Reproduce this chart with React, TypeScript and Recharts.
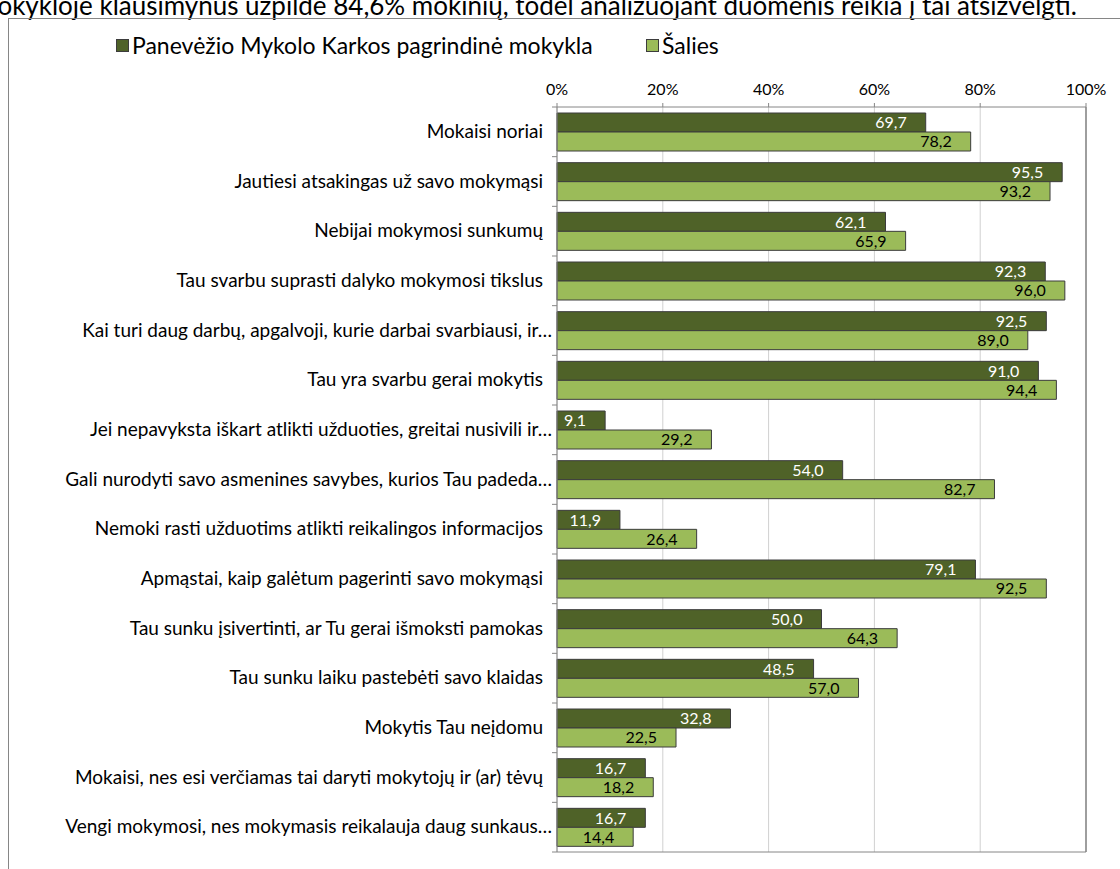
import React from 'react';
import {
  BarChart,
  Bar,
  XAxis,
  YAxis,
  CartesianGrid,
  LabelList,
  ReferenceLine,
} from 'recharts';

const categories = [
  'Mokaisi noriai',
  'Jautiesi atsakingas už savo mokymąsi',
  'Nebijai mokymosi sunkumų',
  'Tau svarbu suprasti dalyko mokymosi tikslus',
  'Kai turi daug darbų, apgalvoji, kurie darbai svarbiausi, ir…',
  'Tau yra svarbu gerai mokytis',
  'Jei nepavyksta iškart atlikti užduoties, greitai nusivili ir…',
  'Gali nurodyti savo asmenines savybes, kurios Tau padeda…',
  'Nemoki rasti užduotims atlikti reikalingos informacijos',
  'Apmąstai, kaip galėtum pagerinti savo mokymąsi',
  'Tau sunku įsivertinti, ar Tu gerai išmoksti pamokas',
  'Tau sunku laiku pastebėti savo klaidas',
  'Mokytis Tau neįdomu',
  'Mokaisi, nes esi verčiamas tai daryti mokytojų ir (ar) tėvų',
  'Vengi mokymosi, nes mokymasis reikalauja daug sunkaus…',
];

const schoolValues = [69.7, 95.5, 62.1, 92.3, 92.5, 91.0, 9.1, 54.0, 11.9, 79.1, 50.0, 48.5, 32.8, 16.7, 16.7];
const countryValues = [78.2, 93.2, 65.9, 96.0, 89.0, 94.4, 29.2, 82.7, 26.4, 92.5, 64.3, 57.0, 22.5, 18.2, 14.4];

const seriesNames = ['Panevėžio Mykolo Karkos pagrindinė mokykla', 'Šalies'];
const xTicks = [0, 20, 40, 60, 80, 100];

const DARK = '#4f6228';
const LIGHT = '#9bbb59';
const FONT = 'Lato, "Liberation Sans", sans-serif';

const data = categories.map((name, i) => ({
  name,
  school: schoolValues[i],
  country: countryValues[i],
}));

const CHART_W = 1120;
const CHART_H = 869;
const PLOT_TOP = 107;
const PLOT_BOTTOM = 852;
const BAND = (PLOT_BOTTOM - PLOT_TOP) / categories.length;

const fmt = (v: number) => v.toFixed(1).replace('.', ',');

const CategoryTick = (props: any) => {
  const { x, y, payload, index } = props;
  const truncated = String(payload.value).endsWith('…');
  return (
    <g>
      <line x1={x + 3} x2={x + 8} y1={y - BAND / 2} y2={y - BAND / 2} stroke="#868686" />
      {index === categories.length - 1 && (
        <line x1={x + 3} x2={x + 8} y1={y + BAND / 2} y2={y + BAND / 2} stroke="#868686" />
      )}
      <text
        x={truncated ? x + 3 : x - 6}
        y={y}
        dy={6}
        textAnchor="end"
        fontSize={19}
        fill="#000"
        fontFamily={FONT}
      >
        {payload.value}
      </text>
    </g>
  );
};

const App = () => {
  return (
    <div style={{ position: 'absolute', left: 0, top: 0, width: CHART_W, height: CHART_H, overflow: 'hidden', background: '#fff' }}>
      <div
        style={{
          position: 'absolute',
          left: -24,
          top: -9,
          fontFamily: FONT,
          fontSize: 26,
          lineHeight: '28px',
          whiteSpace: 'nowrap',
          color: '#000',
        }}
      >
        mokykloje klausimynus užpildė 84,6% mokinių, todėl analizuojant duomenis reikia į tai atsižvelgti.
      </div>
      <div
        style={{
          position: 'absolute',
          left: 8,
          top: 18,
          width: 1300,
          height: 1000,
          border: '1.5px solid #868686',
        }}
      />
      {seriesNames.map((n, i) => (
        <div
          key={n}
          style={{
            position: 'absolute',
            left: i === 0 ? 116 : 646,
            top: 31,
            display: 'flex',
            alignItems: 'center',
            fontFamily: FONT,
            fontSize: 23,
            lineHeight: '28px',
            whiteSpace: 'nowrap',
          }}
        >
          <span
            style={{
              width: 11,
              height: 11,
              background: i === 0 ? DARK : LIGHT,
              border: '1px solid #3c3c3c',
              marginRight: 3,
              display: 'inline-block',
            }}
          />
          <span>{n}</span>
        </div>
      ))}
      <div style={{ position: 'absolute', left: 0, top: 0 }}>
        <BarChart
          width={CHART_W}
          height={CHART_H}
          data={data}
          layout="vertical"
          barGap={0}
          barSize={19}
          margin={{ top: PLOT_TOP - 30, right: 34, bottom: CHART_H - PLOT_BOTTOM - 1, left: 8 }}
        >
          <CartesianGrid horizontal={false} stroke="#d0d0d0" />
          <XAxis
            type="number"
            orientation="top"
            domain={[0, 100]}
            ticks={xTicks}
            height={30}
            tickFormatter={(v: number) => `${v}%`}
            tick={{ fontSize: 16, fill: '#000', fontFamily: FONT }}
            tickSize={4}
            tickMargin={8}
            stroke="#868686"
          />
          <XAxis
            xAxisId="bottom"
            type="number"
            orientation="bottom"
            domain={[0, 100]}
            height={1}
            tick={false}
            tickLine={false}
            stroke="#868686"
          />
          <YAxis
            type="category"
            dataKey="name"
            width={549}
            tick={<CategoryTick />}
            tickLine={false}
            stroke="#868686"
            interval={0}
          />
          <ReferenceLine x={100} stroke="#868686" strokeWidth={1.5} />
          <Bar dataKey="school" name={seriesNames[0]} fill={DARK} stroke="#3c3c3c" isAnimationActive={false}>
            <LabelList
              dataKey="school"
              position="insideRight"
              offset={19}
              formatter={(v: any) => fmt(Number(v))}
              fill="#fff"
              fontSize={16}
              fontFamily={FONT}
            />
          </Bar>
          <Bar dataKey="country" name={seriesNames[1]} fill={LIGHT} stroke="#3c3c3c" isAnimationActive={false}>
            <LabelList
              dataKey="country"
              position="insideRight"
              offset={19}
              formatter={(v: any) => fmt(Number(v))}
              fill="#000"
              fontSize={16}
              fontFamily={FONT}
            />
          </Bar>
        </BarChart>
      </div>
    </div>
  );
};

export default App;
